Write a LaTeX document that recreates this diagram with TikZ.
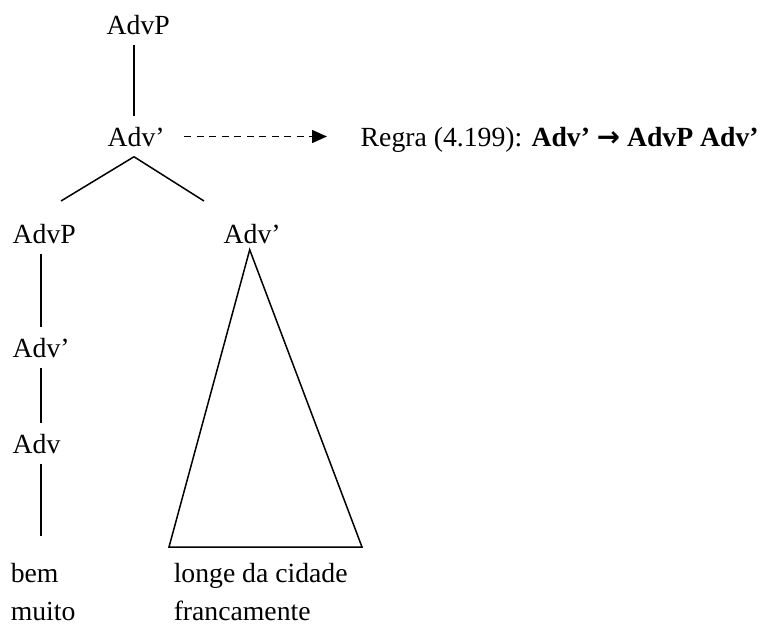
\documentclass[tikz,border=0pt]{standalone}
\usepackage{fontspec}
\setmainfont{Liberation Serif}
\newfontfamily\arrowfont{DejaVu Sans}
\usetikzlibrary{arrows.meta}
\tikzset{cat/.style={anchor=base west,inner xsep=0pt,inner ysep=5pt,text height=9.5pt,text depth=0pt}}

\begin{document}
\begin{tikzpicture}[x=0.5pt,y=-0.5pt,line width=0.75pt,font=\fontsize{13.85}{16.6}\selectfont]
\useasboundingbox (0,0) rectangle (768,623);
\coordinate (ccol) at (134,0); \coordinate (lcol) at (41,0);
\node[cat] (top) at (106,34) {AdvP};
\node[cat] (mid) at (107,146) {Adv’};
\node[cat] (rule) at (360,146) {Regra (4.199): \textbf{Adv’ {\arrowfont →} AdvP Adv’}};
\draw (ccol |- top.south) -- (ccol |- mid.north);
\draw[dash pattern=on 3.5pt off 2.75pt,-{Triangle[length=7.5pt,width=6.5pt]},shorten <=9.5pt,shorten >=16.5pt] (mid.east) -- (rule.west);
\coordinate (lend) at (61,201); \coordinate (rend) at (204,201);
\draw (ccol |- mid.south) -- (lend); \draw (ccol |- mid.south) -- (rend);
\node[cat] (lp) at (12,243) {AdvP};
\node[cat] (rp) at (223,243) {Adv’};
\node[cat] (lb) at (12,357) {Adv’};
\node[cat] (lc) at (12,453) {Adv};
\node[cat] (bem) at (10,582) {bem};
\node[cat] (muito) at (10,620) {muito};
\node[cat] (longe) at (173,582) {longe da cidade};
\node[cat] (franca) at (173,620) {francamente};
\draw (lcol |- lp.south) -- (lcol |- lb.north);
\draw (lcol |- lb.south) -- (lcol |- lc.north);
\draw[shorten >=8pt] (lcol |- lc.south) -- (lcol |- bem.north);
% triangle under the right Adv'
\coordinate (tl) at (169,547); \coordinate (tr) at (362,547);
\draw ([xshift=-1.25pt,yshift=2pt]rp.south) -- (tl) -- (tr) -- cycle;
\end{tikzpicture}
\end{document}
